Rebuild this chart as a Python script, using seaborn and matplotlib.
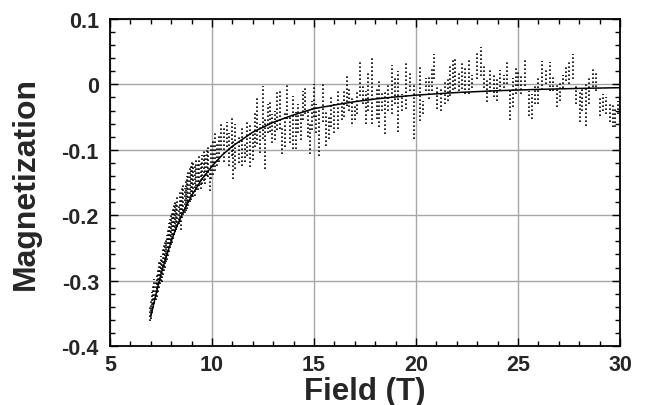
import matplotlib
matplotlib.use("Agg")
import matplotlib.pyplot as plt
import pandas as pd
import seaborn as sns
from matplotlib.ticker import MultipleLocator

# Measured magnetization: each sweep segment spans a field value with an
# upper and lower magnetization bound (dense point runs).
streak_field = [
    6.98, 7.03, 7.08, 7.13, 7.18, 7.23, 7.28, 7.33, 7.38, 7.43,
    7.48, 7.53, 7.58, 7.63, 7.68, 7.73, 7.78, 7.83, 7.88, 7.93,
    7.98, 8.03, 8.08, 8.13, 8.18, 8.24, 8.30, 8.36, 8.42, 8.48,
    8.54, 8.60, 8.66, 8.72, 8.78, 8.84, 8.90, 8.96, 9.02, 9.08,
    9.15, 9.22, 9.30, 9.37, 9.44, 9.52, 9.60, 9.66, 9.74, 9.82,
    9.90, 9.96, 10.05, 10.15, 10.25, 10.35,
    10.45, 10.60, 10.72, 10.85, 10.96, 11.05, 11.15, 11.30, 11.45, 11.60,
    11.72, 11.86, 12.00, 12.10, 12.20, 12.35, 12.50, 12.62, 12.75, 12.84,
    12.95, 13.10, 13.20, 13.33, 13.45, 13.60, 13.68, 13.80, 13.95, 14.10,
    14.20, 14.35, 14.45, 14.56, 14.70, 14.80, 14.90, 15.00, 15.10, 15.25,
    15.45, 15.60, 15.72, 15.85, 16.00, 16.20, 16.35, 16.48, 16.60, 16.72,
    16.85, 17.00, 17.10, 17.25, 17.40, 17.55, 17.66, 17.82, 18.07, 18.20,
    18.35, 18.48, 18.65, 18.80, 18.95, 19.10, 19.30, 19.50, 19.70, 19.90,
    20.20, 20.35, 20.50, 20.62, 20.80, 20.90, 21.05, 21.24, 21.40, 21.55,
    21.67, 21.82, 21.92, 22.10, 22.25, 22.40, 22.60, 22.75, 22.97, 23.19,
    23.35, 23.50, 23.65, 23.80, 23.95, 24.10, 24.30, 24.47, 24.60, 24.75,
    24.88, 25.00, 25.15, 25.35, 25.52, 25.70, 25.85, 26.00, 26.18, 26.35,
    26.55, 26.72, 26.90, 27.05, 27.20, 27.35, 27.50, 27.70, 27.85, 28.02,
    28.15, 28.35, 28.50, 28.70, 28.82, 29.00, 29.15, 29.30, 29.50, 29.65,
    29.78, 29.90, 30.00,
]
streak_high = [
    -0.338, -0.328, -0.318, -0.305, -0.298, -0.300, -0.288, -0.280, -0.272, -0.268,
    -0.262, -0.268, -0.252, -0.246, -0.238, -0.235, -0.230, -0.222, -0.212, -0.206,
    -0.200, -0.196, -0.190, -0.184, -0.178, -0.180, -0.172, -0.184, -0.165, -0.172,
    -0.155, -0.152, -0.158, -0.146, -0.140, -0.132, -0.124, -0.122, -0.116, -0.118,
    -0.124, -0.112, -0.118, -0.106, -0.120, -0.108, -0.102, -0.108, -0.097, -0.095,
    -0.134, -0.092, -0.085, -0.071, -0.088, -0.078,
    -0.060, -0.065, -0.058, -0.075, -0.050, -0.085, -0.060, -0.080, -0.067, -0.090,
    -0.055, -0.060, -0.075, -0.042, -0.017, -0.060, -0.002, -0.050, -0.030, -0.025,
    -0.045, -0.040, -0.010, -0.010, -0.063, -0.040, 0.000, -0.050, -0.017, -0.042,
    -0.030, -0.045, -0.010, -0.002, -0.040, -0.060, -0.025, 0.000, -0.030, -0.038,
    0.004, -0.040, -0.050, -0.020, -0.030, -0.007, -0.025, -0.010, 0.016, -0.005,
    -0.020, -0.030, -0.010, 0.036, 0.000, -0.010, 0.019, 0.041, -0.004, 0.008,
    -0.010, -0.012, 0.000, 0.029, 0.010, 0.020, -0.015, 0.034, 0.020, 0.000,
    0.027, -0.025, 0.010, 0.011, 0.027, 0.046, -0.004, -0.007, 0.005, 0.010,
    0.029, 0.040, 0.042, 0.020, 0.036, 0.025, 0.038, 0.015, 0.049, 0.057,
    0.030, 0.008, 0.025, 0.015, 0.008, 0.022, 0.015, 0.036, -0.010, 0.010,
    0.025, 0.020, 0.015, 0.039, -0.010, -0.015, 0.000, 0.010, 0.036, 0.025,
    0.034, 0.015, 0.000, 0.005, 0.015, 0.030, 0.036, 0.046, 0.000, -0.012,
    -0.005, 0.004, 0.010, 0.027, 0.020, -0.019, -0.015, -0.020, -0.027, -0.030,
    -0.035, -0.025, -0.030,
]
streak_low = [
    -0.362, -0.358, -0.350, -0.342, -0.336, -0.330, -0.325, -0.318, -0.312, -0.305,
    -0.300, -0.302, -0.292, -0.286, -0.280, -0.272, -0.268, -0.262, -0.256, -0.250,
    -0.246, -0.242, -0.236, -0.230, -0.226, -0.222, -0.218, -0.214, -0.210, -0.222,
    -0.204, -0.200, -0.196, -0.194, -0.190, -0.186, -0.180, -0.176, -0.170, -0.172,
    -0.170, -0.162, -0.162, -0.155, -0.160, -0.152, -0.148, -0.152, -0.140, -0.142,
    -0.163, -0.145, -0.138, -0.132, -0.125, -0.118,
    -0.100, -0.118, -0.095, -0.125, -0.110, -0.145, -0.130, -0.120, -0.125, -0.118,
    -0.110, -0.127, -0.115, -0.095, -0.091, -0.105, -0.083, -0.129, -0.075, -0.073,
    -0.090, -0.085, -0.070, -0.068, -0.106, -0.095, -0.053, -0.090, -0.099, -0.099,
    -0.075, -0.085, -0.055, -0.045, -0.080, -0.106, -0.070, -0.050, -0.075, -0.109,
    -0.058, -0.094, -0.083, -0.065, -0.075, -0.068, -0.055, -0.050, -0.033, -0.040,
    -0.060, -0.055, -0.045, -0.017, -0.030, -0.060, -0.041, -0.060, -0.053, -0.065,
    -0.040, -0.076, -0.040, -0.045, -0.030, -0.073, -0.040, -0.038, -0.010, -0.083,
    -0.056, -0.045, -0.010, -0.022, -0.010, 0.008, -0.038, -0.041, -0.030, -0.025,
    -0.017, -0.008, -0.007, -0.010, -0.007, -0.015, -0.015, -0.005, 0.008, 0.013,
    -0.005, -0.027, -0.012, -0.020, -0.025, -0.010, -0.005, 0.000, -0.055, -0.035,
    -0.015, -0.002, -0.015, -0.002, -0.048, -0.053, -0.030, -0.030, -0.008, 0.000,
    -0.010, -0.010, -0.035, -0.025, -0.005, 0.005, 0.000, 0.008, -0.030, -0.058,
    -0.040, -0.063, -0.030, -0.004, -0.010, -0.048, -0.040, -0.045, -0.058, -0.065,
    -0.065, -0.045, -0.040,
]

# Fitted background curve
fit_field = [7.0, 7.25, 7.5, 7.75, 8.0, 8.25, 8.5, 8.75, 9.0, 9.5,
             10.0, 10.5, 11.0, 12.0, 13.0, 14.0, 15.0, 16.0, 17.0, 18.0,
             19.0, 20.0, 22.0, 24.0, 26.0, 28.0, 30.0]
fit_mag = [-0.355, -0.321, -0.290, -0.264, -0.240, -0.219, -0.201, -0.185, -0.170, -0.145,
           -0.125, -0.108, -0.0945, -0.073, -0.058, -0.0466, -0.037, -0.0315, -0.0264, -0.0223,
           -0.0191, -0.0164, -0.0124, -0.0096, -0.0076, -0.0061, -0.0050]

x_ticks = [5, 10, 15, 20, 25, 30]
x_tick_labels = ["5", "10", "15", "20", "25", "30"]
y_ticks = [-0.4, -0.3, -0.2, -0.1, 0.0, 0.1]
y_tick_labels = ["-0.4", "-0.3", "-0.2", "-0.1", "0", "0.1"]

sns.set_style("white")
plt.rcParams["font.family"] = ["Liberation Sans", "DejaVu Sans"]
plt.rcParams["font.weight"] = "bold"
plt.rcParams["xtick.labelsize"] = 15.5
plt.rcParams["ytick.labelsize"] = 15.5

fig = plt.figure(figsize=(6.56, 4.06), dpi=100)
ax = fig.add_axes([0.1677, 0.1453, 0.7774, 0.8054])

ax.set_axisbelow(True)
ax.grid(True, which="major", color="#a6a6a6", linewidth=1.0)

# Dotted point runs of the raw sweep
ax.vlines(streak_field, streak_low, streak_high, colors="black",
          linewidth=1.2, linestyles=[(0, (1, 1.4))], zorder=2)

fit = pd.DataFrame({"field": fit_field, "mag": fit_mag})
sns.lineplot(data=fit, x="field", y="mag", ax=ax, color="black",
             linewidth=1.1, zorder=3)

ax.set_xlim(5, 30)
ax.set_ylim(-0.4, 0.1)
ax.set_xticks(x_ticks, x_tick_labels)
ax.set_yticks(y_ticks, y_tick_labels)
ax.xaxis.set_minor_locator(MultipleLocator(1))
ax.yaxis.set_minor_locator(MultipleLocator(0.02))

for s in ax.spines.values():
    s.set_visible(True)
    s.set_linewidth(1.3)
    s.set_color("black")

ax.tick_params(which="both", direction="in", top=True, right=True,
               bottom=True, left=True, width=1.0, color="black",
               labelsize=15.5)
ax.tick_params(axis="x", which="both", pad=6)
ax.tick_params(axis="y", which="both", pad=8)
ax.tick_params(which="major", length=6)
ax.tick_params(which="minor", length=3.5)
for lab in ax.get_xticklabels() + ax.get_yticklabels():
    lab.set_fontsize(15.5)
    lab.set_fontweight("bold")

ax.set_xlabel("Field (T)", fontsize=22.5, fontweight="bold")
ax.set_ylabel("Magnetization", fontsize=23, fontweight="bold")
ax.xaxis.label.set_verticalalignment("center")
ax.yaxis.label.set_verticalalignment("center")
ax.xaxis.set_label_coords(0.5, -0.138)
ax.yaxis.set_label_coords(-0.165, 0.5)

fig.savefig("out.png", dpi=100)
